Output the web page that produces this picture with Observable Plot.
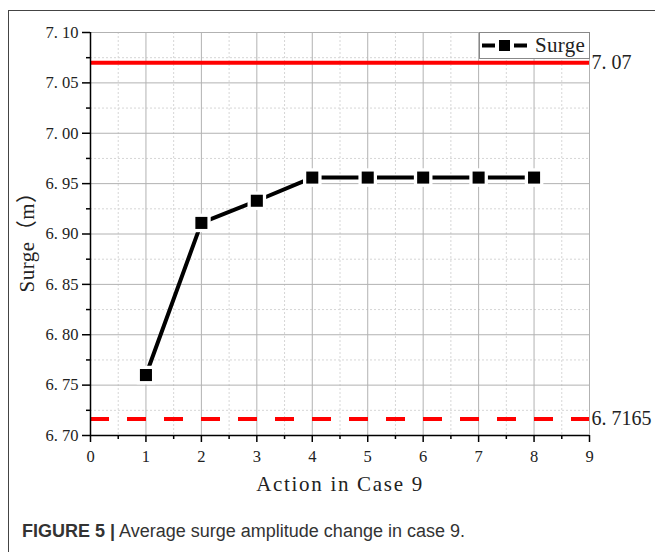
<!DOCTYPE html>
<html><head><meta charset="utf-8">
<script src="https://cdn.jsdelivr.net/npm/d3@7"></script>
<script src="https://cdn.jsdelivr.net/npm/@observablehq/plot@0.6"></script>
<style>
body{margin:0;background:#fff;}
#wrap{position:relative;width:655px;height:552px;overflow:hidden;background:#fff;}
#frame{position:absolute;left:8px;top:10px;width:700px;height:600px;border-left:1px solid #444;border-top:1px solid #444;}
#chart{position:absolute;left:0;top:0;}
#chart g[aria-description="xtitle"] text{letter-spacing:1.7px;}
#chart g[aria-description="ytitle"] text{letter-spacing:0.5px;}
#legend{position:absolute;left:479px;top:32px;width:109px;height:25px;border:1px solid #888;background:#fff;font-family:"Liberation Serif",serif;font-size:21px;color:#222;}
#legend svg{position:absolute;left:0;top:0;}
#legend span{position:absolute;left:55px;top:0px;line-height:25px;letter-spacing:0.3px;}
#caption{position:absolute;left:22px;top:521px;font-family:"Liberation Sans",Arial,sans-serif;font-size:18px;color:#333;white-space:nowrap;}
</style></head>
<body>
<div id="wrap">
<div id="frame"></div>
<div id="chart"></div>
<div id="legend"></div>
<div id="caption"></div>
</div>
<script>
// ---- data ----
const actions = [1, 2, 3, 4, 5, 6, 7, 8];
const surge = [6.76, 6.911, 6.933, 6.956, 6.956, 6.956, 6.956, 6.956];
const refLines = [7.07, 6.7165];
const xTicks = [0, 1, 2, 3, 4, 5, 6, 7, 8, 9];
const xMinor = [0.5, 1.5, 2.5, 3.5, 4.5, 5.5, 6.5, 7.5, 8.5];
const yTicks = [6.70, 6.75, 6.80, 6.85, 6.90, 6.95, 7.00, 7.05, 7.10];
const yMinor = [6.725, 6.775, 6.825, 6.875, 6.925, 6.975, 7.025, 7.075];
const seriesName = "Surge";
const xTitle = "Action in Case 9";
const yTitle = "Surge（m）";
const captionBold = "FIGURE 5 |";
const captionText = " Average surge amplitude change in case 9.";

const data = actions.map((a, i) => ({action: a, surge: surge[i]}));
const fmtY = d => d3.format(".2f")(d).replace(".", ". ");
const fmtRef = d => String(d).replace(".", ". ");
const serif = '"Liberation Serif", "Noto Sans CJK SC", serif';

const chart = Plot.plot({
  width: 655, height: 505,
  marginLeft: 90, marginRight: 66, marginTop: 32, marginBottom: 70,
  style: {fontFamily: serif, fontSize: "16.5px", background: "transparent", color: "#222"},
  x: {domain: [0, 9]},
  y: {domain: [6.70, 7.10]},
  marks: [
    Plot.ruleX(xMinor, {stroke: "#d6d6d6", strokeDasharray: "2,2"}),
    Plot.ruleY(yMinor, {stroke: "#d6d6d6", strokeDasharray: "2,2"}),
    Plot.ruleX(xTicks.slice(1), {stroke: "#b2b2b2"}),
    Plot.ruleY(yTicks.slice(1), {stroke: "#b2b2b2"}),
    Plot.ruleY([refLines[1]], {stroke: "#ff0000", strokeWidth: 4, strokeDasharray: "19,18"}),
    Plot.ruleY([refLines[0]], {stroke: "#ff0000", strokeWidth: 4}),
    Plot.text(refLines, {y: d => d, frameAnchor: "right", text: fmtRef, textAnchor: "start", lineAnchor: "middle", dx: 2, fontSize: 20, fill: "#222"}),
    Plot.line(data, {x: "action", y: "surge", stroke: "#000", strokeWidth: 4}),
    Plot.dot(data, {x: "action", y: "surge", symbol: "square", r: 10.5, fill: "#fff"}),
    Plot.dot(data, {x: "action", y: "surge", symbol: "square", r: 6.8, fill: "#000"}),
    Plot.axisY(yTicks, {tickSize: 8, tickPadding: 4, tickFormat: fmtY, fontSize: 16.5, label: null, stroke: "#000", strokeWidth: 1.5, fill: "#222"}),
    Plot.axisY(yMinor, {tickSize: 4, tickFormat: () => "", label: null, stroke: "#000", strokeWidth: 1.5}),
    Plot.axisX(xTicks, {tickSize: 7, tickPadding: 8, fontSize: 16.5, label: null, stroke: "#000", strokeWidth: 1.5, fill: "#222"}),
    Plot.axisX(xMinor, {tickSize: 4, tickFormat: () => "", label: null, stroke: "#000", strokeWidth: 1.5}),
    Plot.ruleX([0], {stroke: "#000", strokeWidth: 1.5}),
    Plot.ruleY([6.70], {stroke: "#000", strokeWidth: 1.5}),
    Plot.text([xTitle], {frameAnchor: "bottom", textAnchor: "middle", lineAnchor: "middle", dy: 49, fontSize: 21, fill: "#222", text: d => d, ariaDescription: "xtitle"}),
    Plot.text([yTitle], {frameAnchor: "left", textAnchor: "middle", lineAnchor: "middle", dx: -63, dy: 3, rotate: -90, fontSize: 21, fill: "#222", text: d => d, ariaDescription: "ytitle"})
  ]
});
document.getElementById("chart").appendChild(chart);

// legend
const lg = document.getElementById("legend");
lg.innerHTML = `<svg width="56" height="25">
<line x1="2" y1="12.5" x2="47" y2="12.5" stroke="#000" stroke-width="4"/>
<rect x="15" y="5.5" width="19" height="14" fill="#fff"/>
<rect x="19" y="7" width="11" height="11" fill="#000"/>
</svg><span>${seriesName}</span>`;

// caption
const cap = document.getElementById("caption");
const b = document.createElement("b"); b.textContent = captionBold;
cap.appendChild(b);
cap.appendChild(document.createTextNode(captionText));
</script>
</body></html>
